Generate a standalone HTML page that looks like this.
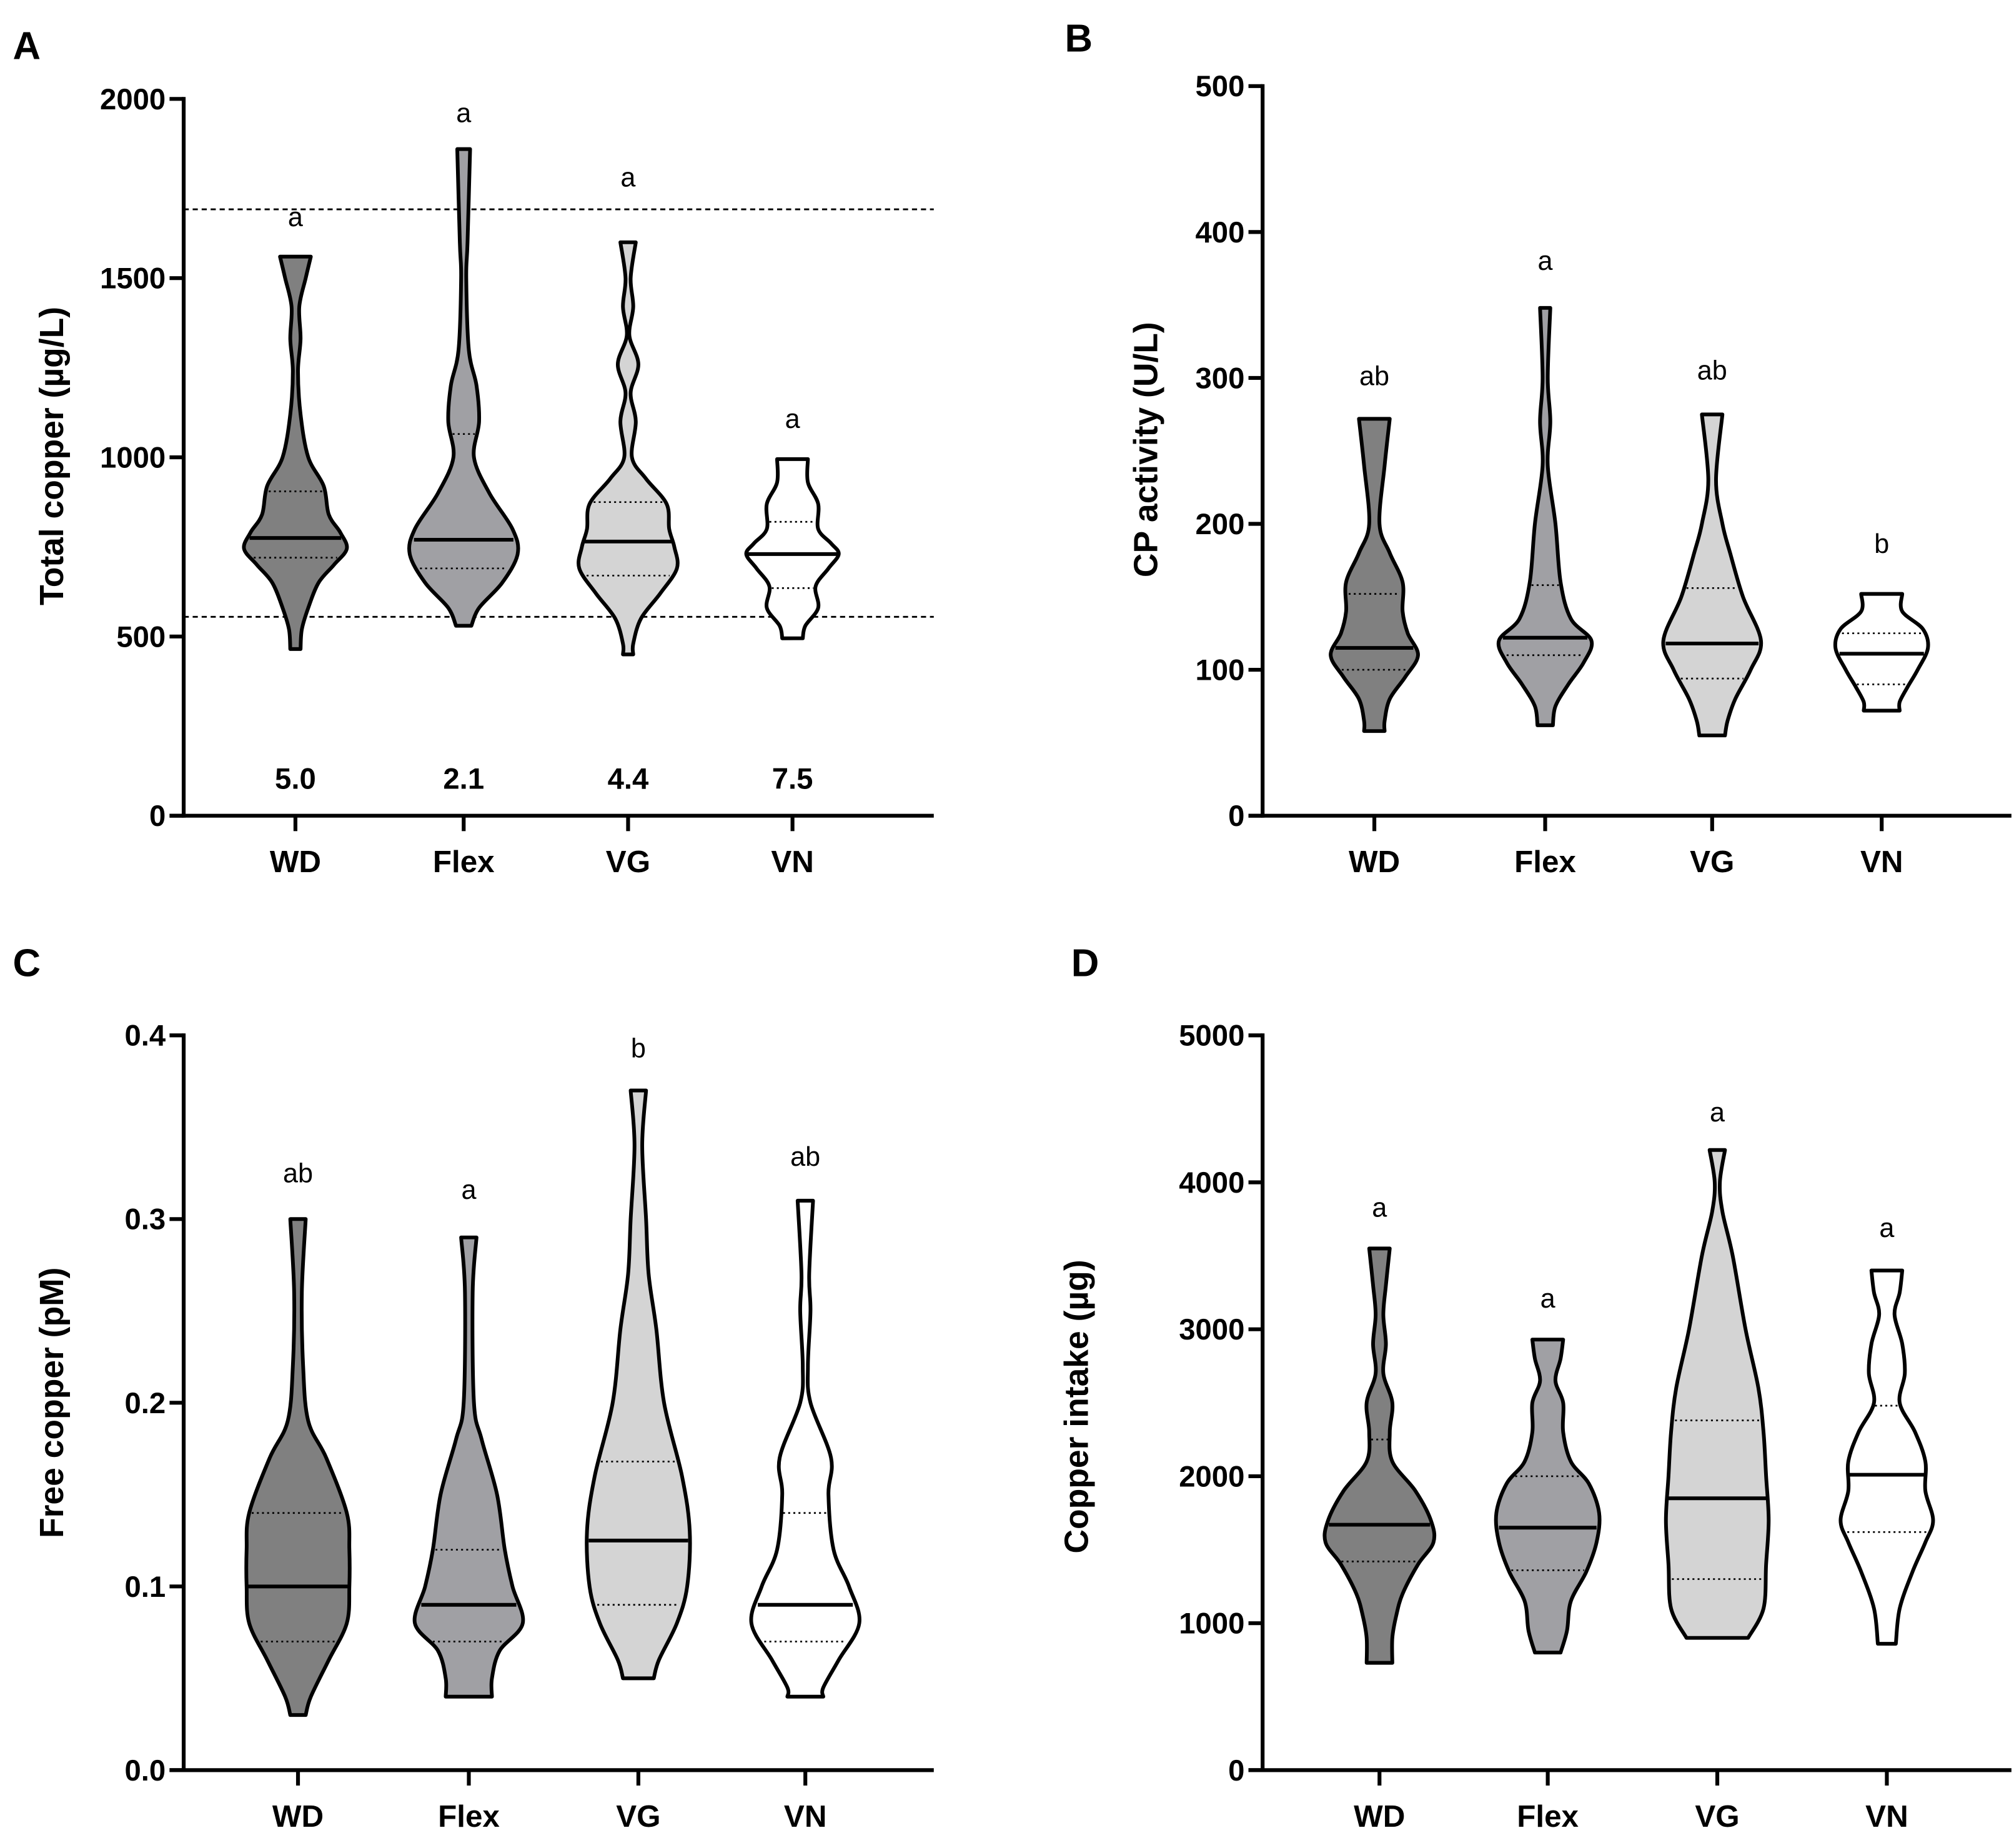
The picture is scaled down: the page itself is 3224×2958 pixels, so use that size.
<!DOCTYPE html>
<html><head><meta charset="utf-8">
<style>
html,body{margin:0;padding:0;background:#fff;}
svg{display:block;}
text{font-family:"Liberation Sans",Arial,sans-serif;}
</style></head>
<body>
<svg id="fig" xmlns="http://www.w3.org/2000/svg" width="3224" height="2958" viewBox="0 0 1568 1438.6">
<rect width="1568" height="1438.6" fill="#fff"/>
</svg>
<script>
const categories = ["WD","Flex","VG","VN"];
const fills = ["#808080","#a0a0a4","#d4d4d4","#ffffff"];

// Panel A: Total copper
const aTicks = [0,500,1000,1500,2000];
const aMedian = [775,770,765,730];
const aQ1 = [720,690,670,635];
const aQ3 = [905,1065,875,820];
const aLetters = ["a","a","a","a"];
const aLetterPos = [1645,1935,1756,1082];
const aNumbers = ["5.0","2.1","4.4","7.5"];
const aRefLines = [1692,555];
const aProfileWD = [[1560,12],[1500,8],[1420,3],[1330,4],[1240,2],[1120,4],[1000,10],[920,22],[840,26],[790,35],[745,40],[700,30],[650,18],[580,10],[520,5],[465,4]];
const aProfileFlex = [[1860,5],[1600,3],[1500,2],[1300,4],[1200,10],[1100,12],[1000,8],[900,20],[800,38],[730,42],[650,30],[580,12],[530,6]];
const aProfileVG = [[1600,6],[1500,2],[1420,4],[1340,1],[1260,8],[1180,2],[1100,6],[1000,3],[940,14],[870,30],[800,32],[750,36],[690,38],[620,25],[550,10],[480,4],[450,4]];
const aProfileVN = [[995,12],[930,12],[870,20],[800,20],[760,30],[730,36],[690,28],[640,18],[580,20],[530,10],[495,8]];

// Panel B: CP activity
const bTicks = [0,100,200,300,400,500];
const bMedian = [115,122,118,111];
const bQ1 = [100,110,94,90];
const bQ3 = [152,158,156,125];
const bLetters = ["ab","a","ab","b"];
const bLetterPos = [295,374,299,180];
const bProfileWD = [[272,12],[240,8],[200,4],[180,12],[160,22],[140,22],[125,26],[110,34],[95,24],[80,12],[65,8],[58,8]];
const bProfileFlex = [[348,4],[300,2],[270,4],[240,2],[200,8],[160,12],[135,20],[120,36],[105,30],[90,18],[75,8],[62,6]];
const bProfileVG = [[275,8],[230,3],[200,8],[180,14],[150,24],[120,38],[100,30],[80,18],[65,12],[55,10]];
const bProfileVN = [[152,16],[140,16],[128,32],[115,36],[100,28],[88,20],[78,14],[72,14]];

// Panel C: Free copper
const cTicks = [0,0.1,0.2,0.3,0.4];
const cTickLabels = ["0.0","0.1","0.2","0.3","0.4"];
const cMedian = [0.10,0.09,0.125,0.09];
const cQ1 = [0.07,0.07,0.09,0.07];
const cQ3 = [0.14,0.12,0.168,0.14];
const cLetters = ["ab","a","b","ab"];
const cLetterPos = [0.320,0.311,0.388,0.329];
const cProfileWD = [[0.30,6],[0.26,3],[0.22,4],[0.19,8],[0.17,22],[0.14,38],[0.12,40],[0.10,40],[0.08,38],[0.06,24],[0.04,10],[0.03,6]];
const cProfileFlex = [[0.29,6],[0.26,3],[0.20,4],[0.18,10],[0.15,22],[0.12,28],[0.10,34],[0.08,42],[0.065,24],[0.05,18],[0.04,18]];
const cProfileVG = [[0.37,6],[0.34,3],[0.30,6],[0.27,8],[0.24,14],[0.20,20],[0.16,34],[0.13,40],[0.10,38],[0.08,30],[0.06,16],[0.05,12]];
const cProfileVN = [[0.31,6],[0.27,3],[0.25,4],[0.22,2],[0.20,4],[0.17,20],[0.15,18],[0.12,22],[0.10,34],[0.08,42],[0.06,26],[0.045,14],[0.04,14]];

// Panel D: Copper intake
const dTicks = [0,1000,2000,3000,4000,5000];
const dMedian = [1670,1650,1850,2010];
const dQ1 = [1420,1360,1300,1620];
const dQ3 = [2250,2000,2380,2480];
const dLetters = ["a","a","a","a"];
const dLetterPos = [3767,3147,4414,3627];
const dProfileWD = [[3550,8],[3300,5],[3100,3],[2900,5],[2700,3],[2500,10],[2300,8],[2100,10],[1900,28],[1700,40],[1550,42],[1400,30],[1200,18],[1050,13],[900,10],[730,10]];
const dProfileFlex = [[2930,12],[2800,10],[2650,6],[2500,12],[2300,12],[2100,18],[1950,32],[1750,40],[1550,38],[1350,30],[1150,18],[950,15],[800,10]];
const dProfileVG = [[4220,6],[4000,2],[3800,4],[3500,12],[3000,22],[2600,32],[2300,36],[2000,38],[1700,40],[1400,38],[1100,36],[900,24]];
const dProfileVN = [[3400,12],[3250,10],[3100,6],[2900,12],[2700,14],[2500,10],[2300,22],[2100,30],[1900,30],[1700,36],[1550,30],[1350,20],[1100,10],[860,7]];

const NS="http://www.w3.org/2000/svg";
const svg=document.getElementById('fig');
function mk(tag,attrs,parent){const e=document.createElementNS(NS,tag);for(const k in attrs)e.setAttribute(k,attrs[k]);(parent||svg).appendChild(e);return e;}

function widthAt(profile,v){
  for(let i=0;i<profile.length-1;i++){
    const a=profile[i],b=profile[i+1];
    if(v<=a[0]&&v>=b[0]){const t=(a[0]-v)/(a[0]-b[0]);return a[1]+(b[1]-a[1])*t;}
  }
  return profile[profile.length-1][1];
}
function smoothPath(pts){
  let d="M"+pts[0][0]+","+pts[0][1];
  for(let i=0;i<pts.length-1;i++){
    const p0=pts[Math.max(0,i-1)],p1=pts[i],p2=pts[i+1],p3=pts[Math.min(pts.length-1,i+2)];
    const c1=[p1[0]+(p2[0]-p0[0])/6,p1[1]+(p2[1]-p0[1])/6];
    const c2=[p2[0]-(p3[0]-p1[0])/6,p2[1]-(p3[1]-p1[1])/6];
    d+=" C"+c1[0].toFixed(2)+","+c1[1].toFixed(2)+" "+c2[0].toFixed(2)+","+c2[1].toFixed(2)+" "+p2[0].toFixed(2)+","+p2[1].toFixed(2);
  }
  return d;
}

function panel(cfg){
  const g=mk('g',{});
  
  
  const yMax=cfg.ticks[cfg.ticks.length-1];
  const y=v=>cfg.y0-(v/yMax)*(cfg.y0-cfg.yTop);
  const pl=mk('text',{x:cfg.letterX,y:cfg.letterY,'font-size':30,'font-weight':'bold'},g);
  pl.textContent=cfg.letter;
  
  
  (cfg.refLines||[]).forEach(v=>{
    const l=mk('line',{x1:cfg.x0,x2:cfg.xEnd,y1:y(v),y2:y(v),stroke:'#000','stroke-width':1.4,'stroke-dasharray':'4,3'},g);
    
    
  });
  cfg.profiles.forEach((prof,i)=>{
    const cx=cfg.cats[i];
    const vg=mk('g',{},g);
    
    
    const right=prof.map(p=>[cx+p[1],y(p[0])]);
    const left=prof.slice().reverse().map(p=>[cx-p[1],y(p[0])]);
    const bot=prof[prof.length-1];
    let d=smoothPath(right)+" L"+(cx-bot[1])+","+y(bot[0])+" "+smoothPath(left).replace(/^M/,"L")+" Z";
    const path=mk('path',{d:d,fill:fills[i],stroke:'#000','stroke-width':2.9,'stroke-linejoin':'round'},vg);
    
    
    [[cfg.q1[i],'q1'],[cfg.q3[i],'q3']].forEach(([v,n])=>{
      const w=widthAt(prof,v)-2;
      const l=mk('line',{x1:cx-w,x2:cx+w,y1:y(v),y2:y(v),stroke:'#000','stroke-width':1.3,'stroke-dasharray':'1.5,2.5'},vg);
      
      
    });
    const wm=widthAt(prof,cfg.median[i])-1;
    const ml=mk('line',{x1:cx-wm,x2:cx+wm,y1:y(cfg.median[i]),y2:y(cfg.median[i]),stroke:'#000','stroke-width':2.9},vg);
    
    
    const lt=mk('text',{x:cx,y:y(cfg.lettersPos[i]),'font-size':21,'text-anchor':'middle'},vg);
    lt.textContent=cfg.lettersText[i];
    
    
    if(cfg.numbers){
      const nt=mk('text',{x:cx,y:cfg.numY,'font-size':23,'font-weight':'bold','text-anchor':'middle'},vg);
      nt.textContent=cfg.numbers[i];
      
      
    }
  });
  const ya=mk('line',{x1:cfg.x0,x2:cfg.x0,y1:cfg.yTop-1.5,y2:cfg.y0+1.5,stroke:'#000','stroke-width':3},g);
  
  
  const xa=mk('line',{x1:cfg.x0-11,x2:cfg.xEnd,y1:cfg.y0,y2:cfg.y0,stroke:'#000','stroke-width':3},g);
  
  
  cfg.ticks.forEach((t,k)=>{
    const tl=mk('line',{x1:cfg.x0-11,x2:cfg.x0,y1:y(t),y2:y(t),stroke:'#000','stroke-width':3},g);
    
    
    const tx=mk('text',{x:cfg.x0-14,y:y(t)+8,'font-size':23,'font-weight':'bold','text-anchor':'end'},g);
    tx.textContent=cfg.tickLabels?cfg.tickLabels[k]:String(t);
    
    
  });
  categories.forEach((c,i)=>{
    const tl=mk('line',{x1:cfg.cats[i],x2:cfg.cats[i],y1:cfg.y0,y2:cfg.y0+12,stroke:'#000','stroke-width':3},g);
    
    
    const tx=mk('text',{x:cfg.cats[i],y:cfg.y0+44,'font-size':24,'font-weight':'bold','text-anchor':'middle'},g);
    tx.textContent=c;
    
    
  });
  const yt=mk('text',{x:0,y:0,'font-size':26,'font-weight':'bold','text-anchor':'middle',transform:'translate('+cfg.titleX+','+cfg.titleY+') rotate(-90)'},g);
  yt.textContent=cfg.title;
  
  
}

panel({name:'panel-a',letter:'A',letterX:10,letterY:46,x0:143,xEnd:727,y0:635,yTop:77,ticks:aTicks,
  cats:[230,361,489,617],profiles:[aProfileWD,aProfileFlex,aProfileVG,aProfileVN],median:aMedian,q1:aQ1,q3:aQ3,
  lettersText:aLetters,lettersPos:aLetterPos,numbers:aNumbers,numY:614,refLines:aRefLines,title:'Total copper (µg/L)',titleX:49,titleY:355});
panel({name:'panel-b',letter:'B',letterX:829,letterY:40,x0:983,xEnd:1566,y0:635,yTop:67,ticks:bTicks,
  cats:[1070,1203,1333,1465],profiles:[bProfileWD,bProfileFlex,bProfileVG,bProfileVN],median:bMedian,q1:bQ1,q3:bQ3,
  lettersText:bLetters,lettersPos:bLetterPos,title:'CP activity (U/L)',titleX:901,titleY:350});
panel({name:'panel-c',letter:'C',letterX:10,letterY:760,x0:143,xEnd:727,y0:1378,yTop:806,ticks:cTicks,tickLabels:cTickLabels,
  cats:[232,365,497,627],profiles:[cProfileWD,cProfileFlex,cProfileVG,cProfileVN],median:cMedian,q1:cQ1,q3:cQ3,
  lettersText:cLetters,lettersPos:cLetterPos,title:'Free copper (pM)',titleX:49,titleY:1092});
panel({name:'panel-d',letter:'D',letterX:834,letterY:760,x0:983,xEnd:1566,y0:1378,yTop:806,ticks:dTicks,
  cats:[1074,1205,1337,1469],profiles:[dProfileWD,dProfileFlex,dProfileVG,dProfileVN],median:dMedian,q1:dQ1,q3:dQ3,
  lettersText:dLetters,lettersPos:dLetterPos,title:'Copper intake (µg)',titleX:847,titleY:1095});
</script>
</body></html>
